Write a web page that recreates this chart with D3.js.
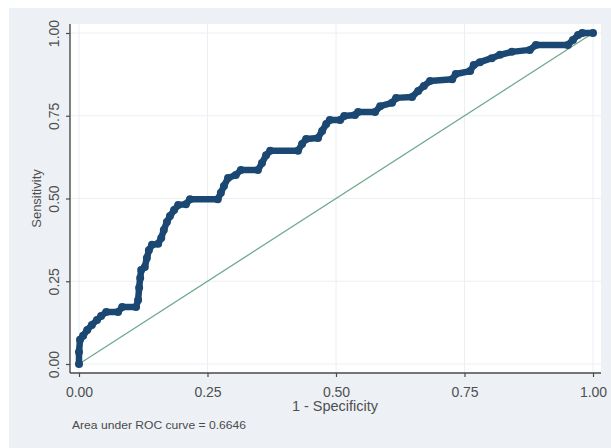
<!DOCTYPE html>
<html>
<head>
<meta charset="utf-8">
<script src="https://cdn.jsdelivr.net/npm/d3@7"></script>
<style>
  html, body { margin: 0; padding: 0; background: #ffffff; }
  svg { display: block; }
  text { font-family: "Liberation Sans", Arial, sans-serif; }
</style>
</head>
<body>
<svg id="chart" width="611" height="448"></svg>
<script>
// ROC curve points: 1 - Specificity (x) and Sensitivity (y)
const fpr = [0, 0, 0.002, 0.008, 0.016, 0.025, 0.035, 0.043, 0.053, 0.076, 0.084, 0.111,
  0.115, 0.117, 0.119, 0.121, 0.128, 0.132, 0.136, 0.142, 0.154, 0.160, 0.165, 0.171,
  0.177, 0.185, 0.193, 0.208, 0.216, 0.270, 0.276, 0.282, 0.290, 0.305, 0.315, 0.348,
  0.356, 0.364, 0.372, 0.426, 0.434, 0.442, 0.465, 0.473, 0.481, 0.488, 0.508, 0.516,
  0.537, 0.543, 0.576, 0.586, 0.609, 0.617, 0.648, 0.660, 0.671, 0.683, 0.726, 0.733,
  0.761, 0.768, 0.780, 0.803, 0.819, 0.842, 0.877, 0.889, 0.951, 0.961, 0.971, 0.979, 1];
const sensitivity = [0, 0.036, 0.073, 0.085, 0.103, 0.118, 0.133, 0.145, 0.157, 0.157, 0.172, 0.172,
  0.193, 0.230, 0.260, 0.284, 0.293, 0.320, 0.344, 0.360, 0.363, 0.381, 0.405, 0.429,
  0.447, 0.465, 0.480, 0.483, 0.498, 0.498, 0.517, 0.538, 0.562, 0.571, 0.586, 0.586,
  0.607, 0.631, 0.644, 0.644, 0.665, 0.680, 0.683, 0.704, 0.725, 0.737, 0.737, 0.749,
  0.752, 0.761, 0.761, 0.779, 0.789, 0.804, 0.807, 0.825, 0.840, 0.855, 0.860, 0.876,
  0.885, 0.903, 0.912, 0.924, 0.934, 0.943, 0.949, 0.964, 0.964, 0.979, 0.994, 1, 1];
const reference = [[0, 0], [1, 1]];
const tickValues = [0, 0.25, 0.5, 0.75, 1];
const tickLabels = ["0.00", "0.25", "0.50", "0.75", "1.00"];
const xTitle = "1 - Specificity";
const yTitle = "Sensitivity";
const note = "Area under ROC curve = 0.6646";

const svg = d3.select("#chart");
const W = 611, H = 448;

// outer background
svg.append("rect").attr("x", 9).attr("y", 8).attr("width", W - 9).attr("height", H - 8)
  .attr("fill", "#edf1f6");

const plot = { left: 70, top: 24, right: 601, bottom: 373 };
svg.append("rect").attr("x", plot.left).attr("y", plot.top)
  .attr("width", plot.right - plot.left).attr("height", plot.bottom - plot.top)
  .attr("fill", "#ffffff");

const x = d3.scaleLinear().domain([0, 1]).range([79, 593]);
const y = d3.scaleLinear().domain([0, 1]).range([364, 33]);

// gridlines
const grid = svg.append("g");
grid.selectAll(".gx").data(tickValues).join("line")
  .attr("x1", d => x(d)).attr("x2", d => x(d))
  .attr("y1", plot.top).attr("y2", plot.bottom)
  .attr("stroke", "#eaeff4").attr("stroke-width", 1);
grid.selectAll(".gy").data(tickValues).join("line")
  .attr("x1", plot.left).attr("x2", plot.right)
  .attr("y1", d => y(d)).attr("y2", d => y(d))
  .attr("stroke", "#eaeff4").attr("stroke-width", 1);

// axes
const xAxis = d3.axisBottom(x).tickValues(tickValues).tickFormat((d, i) => tickLabels[i])
  .tickSizeOuter(0).tickSizeInner(4).tickPadding(10);
const gx = svg.append("g").attr("transform", `translate(0,${plot.bottom})`).call(xAxis);
gx.select(".domain").remove();
gx.append("line").attr("x1", plot.left).attr("x2", plot.right).attr("y1", 0).attr("y2", 0)
  .attr("stroke", "#4a4a4a").attr("stroke-width", 1.4);
gx.selectAll(".tick line").attr("stroke", "#4a4a4a").attr("stroke-width", 1.2);
gx.selectAll(".tick text").attr("fill", "#4f4f4f").attr("font-size", "14px")
  .attr("font-family", "Liberation Sans, Arial, sans-serif");

const yAxis = d3.axisLeft(y).tickValues(tickValues).tickFormat((d, i) => tickLabels[i])
  .tickSizeOuter(0).tickSizeInner(4).tickPadding(6);
const gy = svg.append("g").attr("transform", `translate(${plot.left},0)`).call(yAxis);
gy.select(".domain").remove();
gy.append("line").attr("x1", 0).attr("x2", 0).attr("y1", plot.top).attr("y2", plot.bottom)
  .attr("stroke", "#4a4a4a").attr("stroke-width", 1.4);
gy.selectAll(".tick line").attr("stroke", "#4a4a4a").attr("stroke-width", 1.2);
gy.selectAll(".tick text")
  .attr("fill", "#4f4f4f").attr("font-size", "14px")
  .attr("font-family", "Liberation Sans, Arial, sans-serif")
  .attr("x", null).attr("dy", null)
  .attr("text-anchor", "middle")
  .attr("transform", "translate(-11,0) rotate(-90)");

// reference diagonal
svg.append("path")
  .attr("d", d3.line().x(d => x(d[0])).y(d => y(d[1]))(reference))
  .attr("fill", "none").attr("stroke", "#6fa98c").attr("stroke-width", 1.3);

// ROC curve
const pts = fpr.map((f, i) => [f, sensitivity[i]]);
svg.append("path")
  .attr("d", d3.line().x(d => x(d[0])).y(d => y(d[1]))(pts))
  .attr("fill", "none").attr("stroke", "#1b4872").attr("stroke-width", 6.5)
  .attr("stroke-linejoin", "round").attr("stroke-linecap", "round");
svg.append("g").selectAll("circle").data(pts).join("circle")
  .attr("cx", d => x(d[0])).attr("cy", d => y(d[1])).attr("r", 4)
  .attr("fill", "#1b4872");

// titles
svg.append("text").attr("x", 335).attr("y", 411).attr("text-anchor", "middle")
  .attr("font-size", "14.5px").attr("fill", "#4f4f4f").text(xTitle);
svg.append("text").attr("transform", `translate(41,${y(0.5)}) rotate(-90)`)
  .attr("text-anchor", "middle").attr("font-size", "13px").attr("fill", "#4f4f4f").text(yTitle);
svg.append("text").attr("x", 72).attr("y", 429).attr("font-size", "10px")
  .attr("textLength", 174).attr("lengthAdjust", "spacingAndGlyphs")
  .attr("fill", "#4a4a4a").text(note);
</script>
</body>
</html>
